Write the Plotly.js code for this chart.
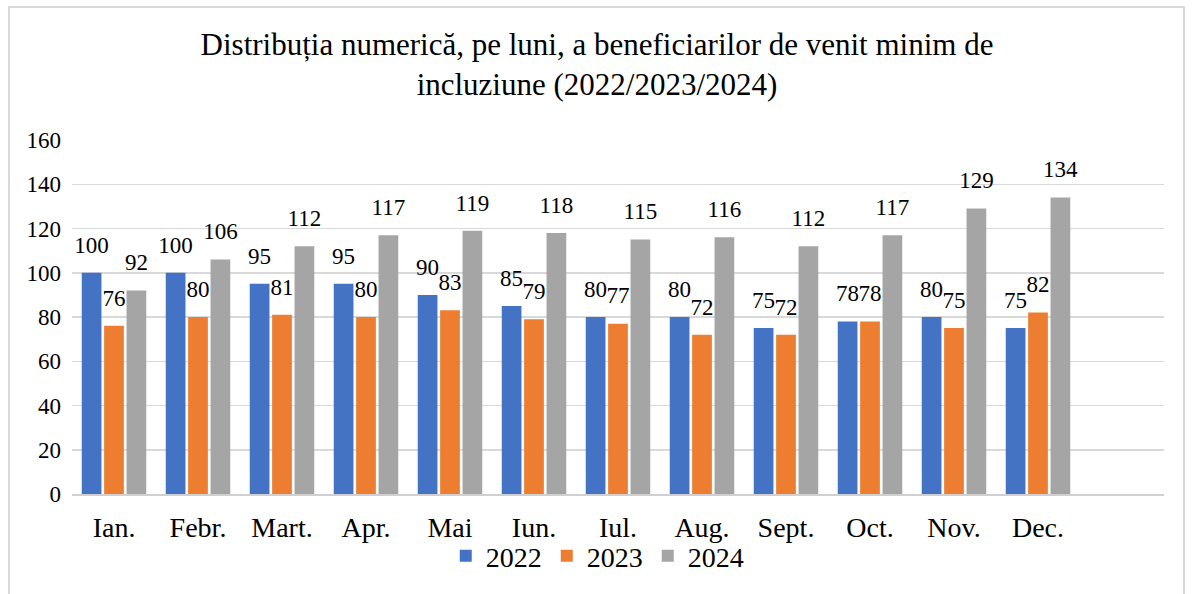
<!DOCTYPE html>
<html>
<head>
<meta charset="utf-8">
<script src="https://cdn.plot.ly/plotly-3.0.1.min.js"></script>
<style>
  html, body { margin: 0; padding: 0; background: #fff; }
  #chart { width: 1194px; height: 594px; position: absolute; left: 0; top: 0; }
  #frame { position: absolute; left: 8px; top: 6px; width: 1177px; height: 600px;
           border: 2px solid #d9d9d9; pointer-events: none; box-sizing: border-box; }
</style>
</head>
<body>
<div id="chart"></div>
<div id="frame"></div>
<script>
const months = ["Ian.", "Febr.", "Mart.", "Apr.", "Mai", "Iun.", "Iul.", "Aug.", "Sept.", "Oct.", "Nov.", "Dec."];
const values2022 = [100, 100, 95, 95, 90, 85, 80, 80, 75, 78, 80, 75];
const values2023 = [76, 80, 81, 80, 83, 79, 77, 72, 72, 78, 75, 82];
const values2024 = [92, 106, 112, 117, 119, 118, 115, 116, 112, 117, 129, 134];
const seriesNames = ["2022", "2023", "2024"];
const yTicks = [0, 20, 40, 60, 80, 100, 120, 140, 160];

const FONT = "Liberation Serif";
const colors = ["#4472c4", "#ed7d31", "#a5a5a5"];
const xIdx = months.map((m, i) => i);
const LABEL_PAD = 5.5; // gap (in axis units) between bar top and its value label

const allSeries = [values2022, values2023, values2024];

const barTraces = allSeries.map((vals, k) => ({
  type: "bar",
  name: seriesNames[k],
  x: xIdx,
  y: vals,
  offsetgroup: "g" + k,
  marker: { color: colors[k], line: { width: 0 } },
  hoverinfo: "x+y+name"
}));

const labelTraces = allSeries.map((vals, k) => ({
  type: "bar",
  name: seriesNames[k] + " labels",
  x: xIdx,
  base: vals,
  y: vals.map(() => LABEL_PAD),
  offsetgroup: "g" + k,
  marker: { color: "rgba(0,0,0,0)", line: { width: 0 } },
  text: vals.map(String),
  textposition: "outside",
  textfont: { family: FONT, size: 23, color: "#000" },
  constraintext: "none",
  cliponaxis: false,
  showlegend: false,
  hoverinfo: "skip"
}));

const layout = {
  width: 1194,
  height: 594,
  paper_bgcolor: "rgba(0,0,0,0)",
  plot_bgcolor: "rgba(0,0,0,0)",
  margin: { l: 72, r: 30, t: 140, b: 100 },
  font: { family: FONT, color: "#000" },
  title: {
    text: "Distribuția numerică, pe luni, a beneficiarilor de venit minim de<br>incluziune (2022/2023/2024)",
    font: { family: FONT, size: 31, color: "#000" },
    x: 0.5, xanchor: "center",
    y: 1 - 55 / 594, yanchor: "middle", yref: "container"
  },
  barmode: "group",
  bargap: 0.2,
  bargroupgap: 0.12,
  xaxis: {
    range: [-0.5, 12.5],
    tickmode: "array",
    tickvals: xIdx,
    ticktext: months,
    tickfont: { family: FONT, size: 28, color: "#000" },
    showgrid: false,
    zeroline: false,
    showline: true,
    linecolor: "#d0d0d0",
    linewidth: 2,
    ticks: "",
    ticklabelstandoff: 7,
    fixedrange: true
  },
  yaxis: {
    range: [0, 160],
    tickmode: "array",
    tickvals: yTicks,
    ticktext: yTicks.map(String),
    tickfont: { family: FONT, size: 23, color: "#000" },
    showgrid: true,
    gridcolor: "#d9d9d9",
    gridwidth: 1.5,
    zeroline: false,
    showline: false,
    ticks: "",
    ticklabelstandoff: 10,
    fixedrange: true
  },
  showlegend: true,
  legend: {
    orientation: "h",
    x: 0.481, xanchor: "center",
    y: -0.175, yanchor: "middle",
    font: { family: FONT, size: 28, color: "#000" },
    itemwidth: 30,
    traceorder: "normal"
  }
};

Plotly.newPlot("chart", barTraces.concat(labelTraces), layout, { displayModeBar: false, staticPlot: true });
</script>
</body>
</html>
